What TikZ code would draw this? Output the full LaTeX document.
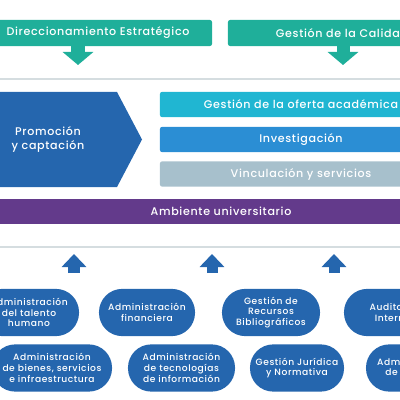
\documentclass[tikz,border=0pt]{standalone}
\usepackage{fontspec}
\setmainfont{Poppins}[UprightFont=* Medium, LetterSpace=6]
\usepackage{tikz}
\usetikzlibrary{positioning,arrows.meta,shapes.geometric}
\definecolor{procteal}{HTML}{1FAF9A}
\definecolor{procblue}{HTML}{2566AE}
\definecolor{proccyan}{HTML}{20B6D2}
\definecolor{procmid}{HTML}{2B8ED4}
\definecolor{procgray}{HTML}{A7C0CC}
\definecolor{procpurple}{HTML}{633A8B}
\definecolor{frameline}{HTML}{D5DDE0}

\begin{document}
\begin{tikzpicture}[
    x=0.025cm, y=-0.025cm,
    every node/.style={text=white, inner sep=0pt, align=center},
    bigtxt/.style={font=\fontsize{7.9}{10.2}\selectfont},
    smalltxt/.style={font=\fontsize{6.5}{7.7}\selectfont},
    topbox/.style={bigtxt, fill=procteal, rounded corners=1.5pt, minimum width=5.7cm, minimum height=0.65cm},
    procbox/.style={bigtxt, rounded corners=1.5pt, minimum width=7.05cm, minimum height=0.63cm},
    pill/.style={smalltxt, fill=procblue, rounded corners=0.58cm, minimum height=1.18cm},
    downarr/.style={draw=procteal, line width=0.325cm, -{Triangle[width=0.75cm, length=0.325cm]}},
    uparr/.style={draw=procblue, line width=0.275cm, -{Triangle[width=0.6cm, length=0.325cm]}}
]
    \useasboundingbox (0,0) rectangle (400,400);
    \clip (0,0) rectangle (400,400);

    % Strategic processes
    \node[topbox] (dir) at (98,33) {Direccionamiento Estratégico};
    \node[topbox] (cal) at (342,33) {Gestión de la Calidad};
    \coordinate (dirtip) at (78,65);
    \coordinate (caltip) at (343,65);
    \draw[downarr] (dir.south -| dirtip) -- (dirtip);
    \draw[downarr] (cal.south -| caltip) -- (caltip);

    % Frame of the core processes
    \draw[draw=frameline, line width=0.04cm] (-10,78.8) rectangle (410,247.2);

    % Core processes
    \fill[procblue] (-30,92) -- (117,92) -- (142,139.5) -- (117,187) -- (-30,187) -- cycle;
    \node[bigtxt] (promo) at (48,139.5) {Promoción\\y captación};
    \node[procbox, fill=proccyan] (oferta) at (301,104.5) {Gestión de la oferta académica};
    \node[procbox, fill=procmid] (inv) at (301,139.5) {Investigación};
    \node[procbox, fill=procgray] (vinc) at (301,174) {Vinculación y servicios};
    \node[bigtxt, fill=procpurple, minimum width=12cm, minimum height=0.63cm] (amb) at (221,211.5) {Ambiente universitario};

    % Support processes
    \coordinate (up1) at (74,254);
    \coordinate (up2) at (212,254);
    \coordinate (up3) at (334,254);
    \foreach \c in {up1,up2,up3}
        \draw[uparr] ([yshift=-0.475cm]\c) -- (\c);

    \node[pill, minimum width=2.5cm] (talento) at (29,312.5) {Administración\\del talento\\humano};
    \node[pill, minimum width=2.4cm] (finan) at (147,312.5) {Administración\\financiera};
    \node[pill, minimum width=2.45cm] (biblio) at (271,312.5) {Gestión de\\Recursos\\Bibliográficos};
    \node[pill, minimum width=2.45cm] (audit) at (393,312.5) {Auditoría\\Interna};
    \node[pill, minimum width=3cm] (bienes) at (52,368) {Administración\\de bienes, servicios\\e infraestructura};
    \node[pill, minimum width=2.675cm] (tic) at (181.5,368) {Administración\\de tecnologías\\de información};
    \node[pill, minimum width=2.35cm] (juri) at (297,368) {Gestión Jurídica\\y Normativa};
    \node[pill, minimum width=2.5cm] (proc) at (416,368) {Administración\\de procesos};
\end{tikzpicture}
\end{document}
